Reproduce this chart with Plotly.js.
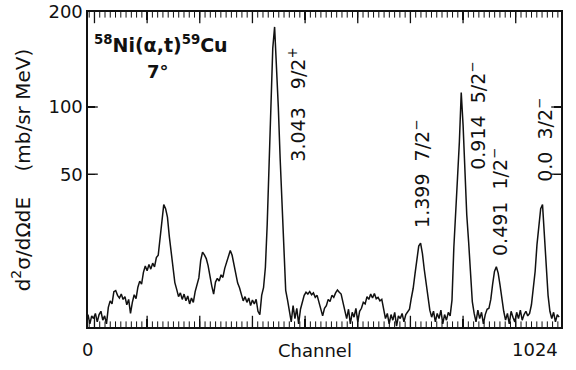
<!DOCTYPE html>
<html>
<head>
<meta charset="utf-8">
<script src="https://cdn.plot.ly/plotly-3.0.1.min.js"></script>
<style>html,body{margin:0;padding:0;background:#fff;}#chart{width:576px;height:370px;}</style>
</head>
<body>
<div id="chart"></div>
<script>
// Channel bins: first channel and bin width
const firstChannel = 0;
const channelStep = 4;
// Counts (mb/sr MeV), one per 4-channel bin (256 bins)
const counts = [
  0.9,0.3,0.8,0.6,1.0,0.4,0.9,1.2,0.5,0.8,0.3,
  1.6,2.4,2.0,3.8,4.0,3.2,2.8,3.4,2.6,3.0,
  1.9,2.6,1.0,2.2,3.3,2.7,4.6,5.8,5.2,7.8,
  9.4,8.2,9.8,8.6,10.2,9.2,11.8,12.5,18,24,
  33,31,27,19,14,9,5.5,4.2,3.0,3.6,
  2.6,3.4,2.4,3.1,2.0,2.8,2.2,3.8,5.0,6.5,
  11,13.5,12.6,11.5,9.5,6.5,4.8,3.4,5.6,6.4,
  5.8,7.2,6.6,8.8,10.5,12,14,12.5,10,7.5,
  5.4,4.5,3.4,2.4,3.0,2.2,2.8,1.8,2.5,2.0,
  2.6,1.2,0.9,3.2,4.5,9,24,55,106,158,
  182,142,100,60,32,12,4,2.5,1.2,0.4,
  1.8,0.6,1.5,0.3,1.4,2.4,3.2,3.7,3.4,3.8,
  3.3,3.6,2.9,3.2,2.2,1.6,0.8,1.5,1.8,2.6,
  2.3,3.2,2.9,3.6,4.1,3.7,3.4,2.2,1.2,0.6,
  1.4,0.3,1.1,0.7,1.5,0.4,1.2,1.5,2.2,2.0,
  3.0,2.6,3.4,2.8,3.5,2.7,2.9,2.4,2.6,1.2,
  0.6,1.0,0.3,0.9,0.5,1.1,0.2,0.8,0.6,1.0,
  0.4,0.9,1.2,1.4,2.8,4.4,7.5,11.5,15.5,16.5,
  13,8.5,5.0,2.6,1.3,0.7,1.2,0.4,1.0,0.6,
  1.3,0.3,0.9,0.5,1.1,0.8,2.5,15,27,48,
  72,113,85,49,28,17,8.4,2.3,1.0,0.4,
  1.3,0.6,1.1,0.3,0.9,1.4,1.5,2.6,5.2,8,
  9.2,7.6,5.0,2.4,1.2,0.5,1.0,0.3,1.2,0.7,
  0.4,1.1,0.6,1.3,0.5,0.9,1.2,0.8,1.0,1.9,
  4.2,8.0,16,24,31,33,20,10,3.2,1.2,
  0.6,1.1,0.4,0.9,0.7
];
// Axis tick values and labels
const yTickValues = [50, 100, 200];
const yTickLabels = ['50', '100', '200'];
const yBottomValue = 0.167;
const xRange = [0, 1024];
const xMajorTick0 = 14, xMajorStep = 114, xMinorStep = 11.4;
const xEdgeLabels = ['0', '1024'];
const xTitle = 'Channel';
const yTitle = 'd<sup>2</sup>\u03c3/d\u03a9dE\u00a0\u00a0\u00a0\u00a0(mb/sr MeV)';
const reaction = '<sup>58</sup>Ni(\u03b1,t)<sup>59</sup>Cu';
const angle = '7\u00b0';
// Level labels (excitation energy, spin-parity)
const levelLabels = ['3.043\u00a0\u00a0\u00a09/2<sup>+</sup>', '1.399\u00a0\u00a07/2<sup>\u2212</sup>', '0.914\u00a0\u00a05/2<sup>\u2212</sup>', '0.491\u00a0\u00a01/2<sup>\u2212</sup>', '0.0\u00a0\u00a03/2<sup>\u2212</sup>'];
const levelPos = [[0.442,0.706],[0.704,0.486],[0.822,0.670],[0.869,0.397],[0.964,0.594]];

const sq = v => Math.sqrt(v); // square-root vertical scale
const ink = '#111';
const fam = 'DejaVu Sans, Verdana, sans-serif';
const yLo = sq(yBottomValue), yHi = sq(200);

const trace = {
  type: 'scatter', mode: 'lines',
  x0: firstChannel, dx: channelStep,
  y: counts.map(sq),
  line: {color: ink, width: 1.5},
  hoverinfo: 'skip'
};

// Frame tick marks (same tick0/step as the axis), drawn as clipped line markers on the frame
function frameTicks(step, start) {
  const xs = [];
  for (let v = start; v <= xRange[1] + 1e-9; v += step) xs.push(v);
  return xs;
}
const majorX = frameTicks(xMajorStep, xMajorTick0);
const minorX = frameTicks(xMinorStep, xMajorTick0 - xMinorStep);
const tickMarker = (size, sym, w) => ({symbol: sym, size: size, color: ink, line: {color: ink, width: w}});
const majorTicks = {type:'scatter', mode:'markers', x: majorX.concat(majorX), y: majorX.map(() => yHi).concat(majorX.map(() => yLo)), marker: tickMarker(16, 'line-ns', 1.3), hoverinfo:'skip'};
const minorTicks = {type:'scatter', mode:'markers', x: minorX.concat(minorX), y: minorX.map(() => yHi).concat(minorX.map(() => yLo)), marker: tickMarker(8, 'line-ns', 1), hoverinfo:'skip'};
const yTickPts = yTickValues.slice(0, 2).map(sq);
const yTicks = {type:'scatter', mode:'markers', x: yTickPts.map(() => xRange[0]).concat(yTickPts.map(() => xRange[1])), y: yTickPts.concat(yTickPts), marker: tickMarker(14, 'line-ew', 1.3), hoverinfo:'skip'};

const annotations = [
  {text: reaction, xref:'paper', yref:'paper', x:0.008, y:0.898, xanchor:'left', yanchor:'middle', showarrow:false, font:{family:fam, size:19, weight:'bold', color:ink}},
  {text: angle, xref:'paper', yref:'paper', x:0.148, y:0.81, xanchor:'center', yanchor:'middle', showarrow:false, font:{family:fam, size:18, weight:'bold', color:ink}},
  {text: xEdgeLabels[0], xref:'paper', yref:'paper', x:-0.002, y:-0.073, xanchor:'center', yanchor:'middle', showarrow:false, font:{family:fam, size:18, color:ink}},
  {text: xEdgeLabels[1], xref:'paper', yref:'paper', x:0.998, y:-0.073, xanchor:'right', yanchor:'middle', showarrow:false, font:{family:fam, size:18, color:ink}},
  {text: xTitle, xref:'paper', yref:'paper', x:0.48, y:-0.076, xanchor:'center', yanchor:'middle', showarrow:false, font:{family:fam, size:18, color:ink}},
  {text: yTitle, xref:'paper', yref:'paper', x:-0.142, y:0.50, xanchor:'center', yanchor:'middle', textangle:-90, showarrow:false, font:{family:fam, size:20, color:ink}}
];
levelLabels.forEach((t, k) => annotations.push({
  text: t, xref:'paper', yref:'paper', x: levelPos[k][0], y: levelPos[k][1],
  xanchor:'center', yanchor:'middle', textangle:-90, showarrow:false,
  font:{family:fam, size:19, color:ink}
}));

const layout = {
  width: 576, height: 370,
  margin: {l: 88, r: 15, t: 12, b: 43},
  paper_bgcolor: '#fff', plot_bgcolor: '#fff',
  showlegend: false,
  font: {family: fam, color: ink},
  xaxis: {
    range: xRange, showline: true, linecolor: ink, linewidth: 1.6, mirror: 'ticks',
    ticks: 'inside', ticklen: 8, tickwidth: 1.3, tickcolor: ink,
    tickmode: 'linear', tick0: xMajorTick0, dtick: xMajorStep,
    showticklabels: false, showgrid: false, zeroline: false
  },
  yaxis: {
    range: [yLo, yHi], showline: true, linecolor: ink, linewidth: 1.6, mirror: 'ticks',
    ticks: 'inside', ticklen: 7, tickwidth: 1.3, tickcolor: ink,
    tickmode: 'array', tickvals: yTickValues.map(sq), ticktext: yTickLabels,
    tickfont: {family: fam, size: 18, color: ink},
    showgrid: false, zeroline: false
  },
  annotations: annotations
};

Plotly.newPlot('chart', [minorTicks, majorTicks, yTicks, trace], layout, {staticPlot: true, displayModeBar: false});
</script>
</body>
</html>
